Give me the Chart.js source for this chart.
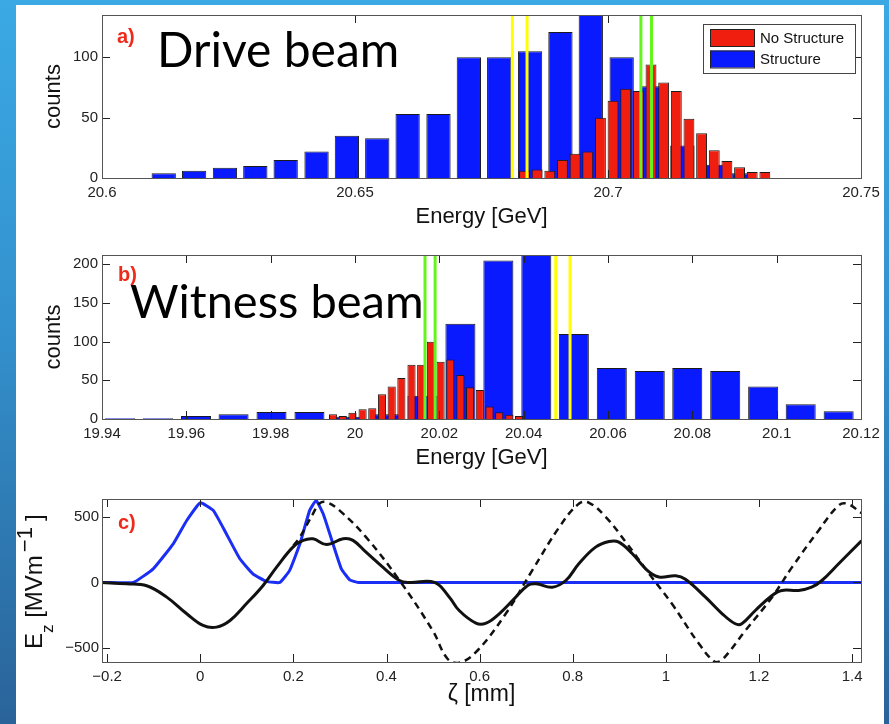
<!DOCTYPE html>
<html>
<head>
<meta charset="utf-8">
<title>Drive and witness beam spectra</title>
<script src="https://cdn.jsdelivr.net/npm/chart.js@4.4.1/dist/chart.umd.min.js"></script>
<style>
  html, body { margin: 0; padding: 0; }
  body {
    width: 889px; height: 724px; position: relative; overflow: hidden;
    background: linear-gradient(to bottom, #3aa9e4 0%, #3391cd 45%, #2a6399 100%);
  }
  #sheet { position: absolute; left: 16px; top: 5px; width: 868px; height: 719px; background: #fff; }
  canvas { position: absolute; left: 0; }
</style>
</head>
<body>
<div id="sheet"></div>
<canvas id="driveChart" width="889" height="235" style="top:0"></canvas>
<canvas id="witnessChart" width="889" height="240" style="top:235px"></canvas>
<canvas id="fieldChart" width="889" height="249" style="top:475px"></canvas>
<script>
Chart.defaults.font.family = '"Liberation Sans", Arial, Helvetica, sans-serif';
Chart.defaults.color = '#222';
Chart.defaults.animation = false;

// a) drive beam energy spectrum
const driveStructEnergy = [20.6122, 20.6182, 20.6243, 20.6303, 20.6363, 20.6424, 20.6484, 20.6544, 20.6604, 20.6665,
                           20.6725, 20.6785, 20.6846, 20.6906, 20.6966, 20.7027, 20.7087, 20.7147, 20.7207, 20.7268];
const driveStructCounts = [4, 6, 8.5, 10, 15, 22, 35, 33, 53, 53, 100, 100, 105, 121, 142, 100, 76, 27, 11, 4];
const driveNoStructEnergy = [20.6835, 20.6860, 20.6885, 20.6910, 20.6935, 20.6960, 20.6985, 20.7010, 20.7035, 20.7060,
                             20.7085, 20.7110, 20.7135, 20.7160, 20.7185, 20.7210, 20.7235, 20.7260, 20.7285, 20.7310];
const driveNoStructCounts = [6, 7, 6, 15, 20, 22, 50, 64, 74, 72, 94, 79, 72, 49, 37, 23, 14, 9, 5, 5];
const driveYellowCuts = [20.6811, 20.6840];
const driveGreenCuts = [20.7065, 20.7086];
const driveEnergyTicks = [20.6, 20.65, 20.7, 20.75];
const driveEnergyLabels = ['20.6', '20.65', '20.7', '20.75'];
const driveCountTicks = [0, 50, 100];

// b) witness beam energy spectrum
const witnessStructEnergy = [19.9443, 19.9533, 19.9623, 19.9712, 19.9802, 19.9892, 19.9981, 20.0071, 20.0160, 20.0250,
                             20.0340, 20.0430, 20.0519, 20.0609, 20.0699, 20.0788, 20.0878, 20.0968, 20.1057, 20.1147];
const witnessStructCounts = [1, 1, 4, 6, 9, 9, 3, 6, 30, 123, 205, 216, 110, 66, 62, 66, 62, 42, 19, 10];
const witnessNoStructEnergy = [19.9948, 19.9971, 19.9994, 20.0018, 20.0041, 20.0064, 20.0087, 20.0110, 20.0134, 20.0157,
                               20.0180, 20.0203, 20.0226, 20.0250, 20.0273, 20.0296, 20.0319, 20.0342, 20.0366, 20.0389];
const witnessNoStructCounts = [6, 4, 8, 12.5, 14, 32, 42, 53, 70, 70, 100, 74, 77, 57, 41, 37.5, 16, 8.6, 5.6, 4];
const witnessGreenCuts = [20.0166, 20.0190];
const witnessYellowCuts = [20.0476, 20.0510];
const witnessEnergyTicks = [19.94, 19.96, 19.98, 20, 20.02, 20.04, 20.06, 20.08, 20.1, 20.12];
const witnessEnergyLabels = ['19.94', '19.96', '19.98', '20', '20.02', '20.04', '20.06', '20.08', '20.1', '20.12'];
const witnessCountTicks = [0, 50, 100, 150, 200];

// c) longitudinal field along the bunch train
const profileZeta = [-0.211, -0.144, -0.101, -0.058, -0.029, 0, 0.028, 0.056, 0.085, 0.113, 0.142, 0.171,
                     0.192, 0.214, 0.235, 0.249, 0.264, 0.285, 0.303, 0.321, 0.339, 1.42];
const profileEz = [0, 0, 104, 295, 473, 608, 550, 372, 181, 66, 8, 0,
                   92, 295, 550, 626, 524, 295, 104, 20, 0, 0];
const wakeZeta = [-0.211, -0.158, -0.115, -0.072, -0.029, 0.006, 0.035, 0.064, 0.099, 0.135, 0.164, 0.199,
                  0.221, 0.242, 0.271, 0.307, 0.328, 0.356, 0.392, 0.428, 0.449, 0.503, 0.535, 0.556,
                  0.592, 0.614, 0.642, 0.671, 0.703, 0.721, 0.756, 0.785, 0.813, 0.849, 0.878, 0.899,
                  0.928, 0.96, 0.985, 1.021, 1.042, 1.085, 1.121, 1.149, 1.163, 1.192, 1.228, 1.249,
                  1.285, 1.313, 1.335, 1.371, 1.42];
const wakeEz = [0, -10, -25, -112, -239, -328, -341, -290, -163, -23, 117, 270,
                321, 333, 290, 333, 321, 231, 117, 15, 0, 0, -112, -214,
                -310, -310, -239, -137, -23, -10, -36, 15, 143, 270, 313, 308,
                219, 92, 41, 51, 25, -112, -239, -315, -315, -214, -99, -61,
                -61, -36, 15, 143, 318];
const linearZeta = [0.2, 0.214, 0.242, 0.256, 0.271, 0.299, 0.356, 0.428, 0.499, 0.531, 0.556, 0.592,
                    0.656, 0.713, 0.771, 0.813, 0.835, 0.871, 0.914, 0.964, 1.013, 1.071, 1.106, 1.121,
                    1.171, 1.228, 1.271, 1.328, 1.371, 1.389, 1.42];
const linearEz = [282, 346, 524, 603, 613, 550, 346, 15, -366, -582, -612, -532,
                  -239, 92, 422, 601, 608, 499, 308, 66, -163, -468, -608, -590,
                  -366, -112, 117, 397, 588, 601, 530];
const zetaTicks = [-0.2, 0, 0.2, 0.4, 0.6, 0.8, 1, 1.2, 1.4];
const zetaLabels = ['\u22120.2', '0', '0.2', '0.4', '0.6', '0.8', '1', '1.2', '1.4'];
const ezTicks = [-500, 0, 500];
const ezLabels = ['\u2212500', '0', '500'];

const RED = '#f01e0e';
const BLUE = '#0a1aff';
const YELLOW = '#ffff00';
const GREEN = '#66f51a';
const TICK_LEN = 8;
const LABEL_RED = '#ee2a1a';

const pairs = (xs, ys) => xs.map((x, i) => ({ x, y: ys[i] }));

// MATLAB-style box: frame plus inward ticks on all four sides
const boxAxes = {
  id: 'boxAxes',
  afterDatasetsDraw(chart) {
    const { ctx, chartArea: a, scales } = chart;
    ctx.save();
    ctx.strokeStyle = '#222';
    ctx.lineWidth = 1;
    ctx.beginPath();
    for (const t of scales.x.ticks) {
      const px = Math.round(scales.x.getPixelForValue(t.value)) + 0.5;
      ctx.moveTo(px, a.bottom); ctx.lineTo(px, a.bottom - TICK_LEN);
      ctx.moveTo(px, a.top); ctx.lineTo(px, a.top + TICK_LEN);
    }
    for (const t of scales.y.ticks) {
      const py = Math.round(scales.y.getPixelForValue(t.value)) + 0.5;
      ctx.moveTo(a.left, py); ctx.lineTo(a.left + TICK_LEN, py);
      ctx.moveTo(a.right, py); ctx.lineTo(a.right - TICK_LEN, py);
    }
    ctx.stroke();
    ctx.strokeStyle = '#555';
    ctx.strokeRect(Math.round(a.left) + 0.5, Math.round(a.top) + 0.5,
                   Math.round(a.right - a.left), Math.round(a.bottom - a.top));
    ctx.restore();
  }
};

// free text inside the panels (panel letter, beam name)
const panelText = {
  id: 'panelText',
  afterDraw(chart, args, opts) {
    const ctx = chart.ctx;
    ctx.save();
    ctx.textAlign = 'left';
    ctx.textBaseline = 'alphabetic';
    for (const it of opts.items || []) {
      ctx.font = it.font;
      ctx.fillStyle = it.color;
      ctx.fillText(it.text, it.x, it.y);
    }
    ctx.restore();
  }
};

// boxed legend in the upper right corner of the plot area
const boxLegend = {
  id: 'boxLegend',
  afterDraw(chart) {
    const { ctx, chartArea: a } = chart;
    const entries = chart.data.datasets.filter(d => d.type !== 'line');
    const w = 152, h = 49;
    const left = Math.round(a.right - 6 - w), top = Math.round(a.top + 9);
    ctx.save();
    ctx.fillStyle = '#fff';
    ctx.fillRect(left, top, w, h);
    ctx.strokeStyle = '#444';
    ctx.lineWidth = 1;
    ctx.strokeRect(left + 0.5, top + 0.5, w, h);
    ctx.font = '15px "Liberation Sans", Arial, sans-serif';
    ctx.textBaseline = 'middle';
    entries.forEach((d, i) => {
      const y = top + 5 + i * 21.5;
      ctx.fillStyle = d.backgroundColor;
      ctx.fillRect(left + 7, y, 44, 17);
      ctx.strokeStyle = '#222';
      ctx.strokeRect(left + 7.5, y + 0.5, 44, 17);
      ctx.fillStyle = '#111';
      ctx.fillText(d.label, left + 57, y + 9.5);
    });
    ctx.restore();
  }
};

function cutLine(energy, color, top) {
  return {
    type: 'line', data: [{ x: energy, y: 0 }, { x: energy, y: top }],
    borderColor: color, borderWidth: 3, pointRadius: 0, xAxisID: 'x', order: 0, clip: 0
  };
}

function histBars(label, energy, counts, color, axisId, order, widthRatio) {
  return {
    label, data: pairs(energy, counts), backgroundColor: color,
    borderColor: '#1a1a1a', borderWidth: 1, grouped: false,
    barPercentage: widthRatio, categoryPercentage: 1, xAxisID: axisId, order, clip: 0
  };
}

function histOptions(range, xTicks, xLabels, yMax, yTicks, xHeight, padding, texts) {
  return {
    responsive: false,
    layout: { padding },
    scales: {
      x: {
        type: 'linear', min: range[0], max: range[1], offset: false,
        afterBuildTicks: s => { s.ticks = xTicks.map(v => ({ value: v })); },
        afterFit: s => { s.height = xHeight; },
        ticks: { callback: (v, i) => xLabels[i], autoSkip: false, maxRotation: 0, padding: 6, font: { size: 15 } },
        grid: { display: false, drawTicks: false }, border: { display: false },
        title: { display: true, text: 'Energy [GeV]', color: '#111', font: { size: 22 }, padding: 0 }
      },
      xs: { type: 'linear', min: range[0], max: range[1], offset: false, display: false },
      y: {
        type: 'linear', min: 0, max: yMax,
        afterBuildTicks: s => { s.ticks = yTicks.map(v => ({ value: v })); },
        afterFit: s => { s.width = 102; },
        ticks: { callback: v => String(v), padding: 4, font: { size: 15 } },
        grid: { display: false, drawTicks: false }, border: { display: false },
        title: { display: true, text: 'counts', color: '#111', font: { size: 22 }, padding: { top: 41, bottom: 0 } }
      }
    },
    plugins: {
      legend: { display: false },
      tooltip: { enabled: false },
      panelText: { items: texts }
    }
  };
}

const DRIVE_MAX = 135;
new Chart(document.getElementById('driveChart'), {
  type: 'bar',
  data: {
    datasets: [
      cutLine(driveYellowCuts[0], YELLOW, DRIVE_MAX),
      cutLine(driveYellowCuts[1], YELLOW, DRIVE_MAX),
      cutLine(driveGreenCuts[0], GREEN, DRIVE_MAX),
      cutLine(driveGreenCuts[1], GREEN, DRIVE_MAX),
      histBars('No Structure', driveNoStructEnergy, driveNoStructCounts, RED, 'x', 1, 0.86),
      histBars('Structure', driveStructEnergy, driveStructCounts, BLUE, 'xs', 2, 0.8)
    ]
  },
  options: histOptions([20.6, 20.75], driveEnergyTicks, driveEnergyLabels, DRIVE_MAX, driveCountTicks, 52,
    { left: 0, right: 28, top: 15, bottom: 5 },
    [
      { text: 'a)', x: 117, y: 43, font: 'bold 20px "Liberation Sans", Arial, sans-serif', color: LABEL_RED },
      { text: 'Drive beam', x: 157, y: 67, font: '48px Lato, "Open Sans", sans-serif', color: '#000' }
    ]),
  plugins: [boxAxes, panelText, boxLegend]
});

const WITNESS_MAX = 212;
new Chart(document.getElementById('witnessChart'), {
  type: 'bar',
  data: {
    datasets: [
      cutLine(witnessGreenCuts[0], GREEN, WITNESS_MAX),
      cutLine(witnessGreenCuts[1], GREEN, WITNESS_MAX),
      cutLine(witnessYellowCuts[0], YELLOW, WITNESS_MAX),
      cutLine(witnessYellowCuts[1], YELLOW, WITNESS_MAX),
      histBars('No Structure', witnessNoStructEnergy, witnessNoStructCounts, RED, 'x', 1, 0.84),
      histBars('Structure', witnessStructEnergy, witnessStructCounts, BLUE, 'xs', 2, 0.8)
    ]
  },
  options: histOptions([19.94, 20.12], witnessEnergyTicks, witnessEnergyLabels, WITNESS_MAX, witnessCountTicks, 52,
    { left: 0, right: 28, top: 20, bottom: 4 },
    [
      { text: 'b)', x: 118, y: 46, font: 'bold 20px "Liberation Sans", Arial, sans-serif', color: LABEL_RED },
      { text: 'Witness beam', x: 130, y: 83, font: '47px Lato, "Open Sans", sans-serif', color: '#000' }
    ]),
  plugins: [boxAxes, panelText]
});

// y title with sub- and superscript, written bottom to top
const ezTitle = {
  id: 'ezTitle',
  afterDraw(chart) {
    const ctx = chart.ctx;
    ctx.save();
    ctx.translate(42, 174);
    ctx.rotate(-Math.PI / 2);
    ctx.fillStyle = '#111';
    ctx.textBaseline = 'alphabetic';
    let x = 0;
    const part = (t, size, dy, gap) => {
      ctx.font = size + 'px "Liberation Sans", Arial, sans-serif';
      x += gap;
      ctx.fillText(t, x, dy);
      x += ctx.measureText(t).width;
    };
    part('E', 24, 0, 0);
    part('z', 17, 11, 0);
    part(' [MVm', 24, 0, 0);
    part('\u22121', 22, -10, 3);
    part(']', 24, 0, 6);
    ctx.restore();
  }
};

new Chart(document.getElementById('fieldChart'), {
  type: 'line',
  data: {
    datasets: [
      { data: pairs(wakeZeta, wakeEz), borderColor: '#111', borderWidth: 3, pointRadius: 0, tension: 0.4, order: 0, clip: 0 },
      { data: pairs(linearZeta, linearEz), borderColor: '#111', borderWidth: 2.5, borderDash: [7, 5],
        pointRadius: 0, tension: 0.4, order: 1, clip: 0 },
      { data: pairs(profileZeta, profileEz), borderColor: '#1a2ef5', borderWidth: 3, pointRadius: 0, tension: 0.12, order: 2, clip: 0 }
    ]
  },
  options: {
    responsive: false,
    layout: { padding: { left: 0, right: 28, top: 24, bottom: 16 } },
    scales: {
      x: {
        type: 'linear', min: -0.211, max: 1.419,
        afterBuildTicks: s => { s.ticks = zetaTicks.map(v => ({ value: v })); },
        afterFit: s => { s.height = 46; },
        ticks: { callback: (v, i) => zetaLabels[i], autoSkip: false, maxRotation: 0, padding: 6, font: { size: 15 } },
        grid: { display: false, drawTicks: false }, border: { display: false },
        title: { display: true, text: '\u03b6 [mm]', color: '#111', font: { size: 23 }, padding: 0 }
      },
      y: {
        type: 'linear', min: -607, max: 637,
        afterBuildTicks: s => { s.ticks = ezTicks.map(v => ({ value: v })); },
        afterFit: s => { s.width = 102; },
        ticks: { callback: (v, i) => ezLabels[i], padding: 3, font: { size: 15 } },
        grid: { display: false, drawTicks: false }, border: { display: false }
      }
    },
    plugins: {
      legend: { display: false },
      tooltip: { enabled: false },
      panelText: { items: [
        { text: 'c)', x: 118, y: 54, font: 'bold 20px "Liberation Sans", Arial, sans-serif', color: LABEL_RED }
      ] }
    }
  },
  plugins: [boxAxes, panelText, ezTitle]
});
</script>
</body>
</html>
